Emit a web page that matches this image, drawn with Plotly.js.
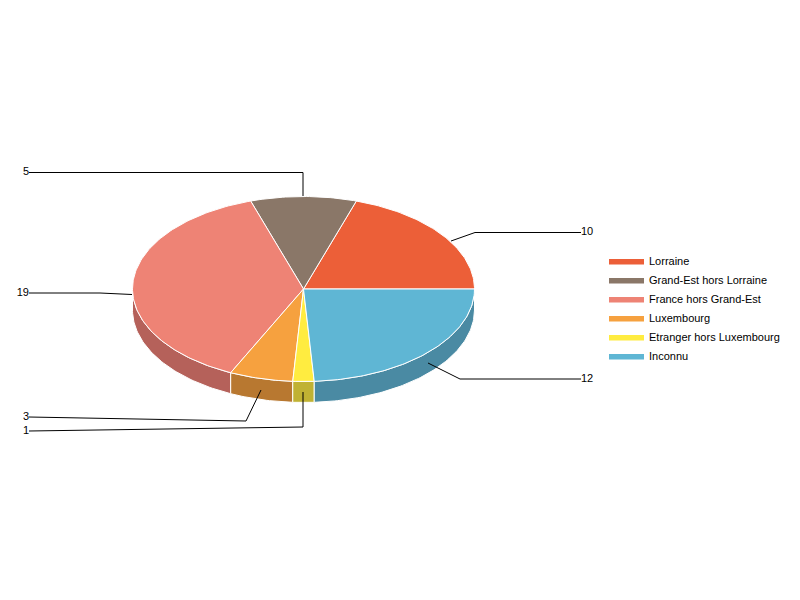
<!DOCTYPE html>
<html>
<head>
<meta charset="utf-8">
<script src="https://cdn.plot.ly/plotly-3.0.1.min.js"></script>
<style>html,body{margin:0;padding:0;background:#fff}#chart{width:800px;height:600px}</style>
</head>
<body>
<div id="chart"></div>
<script>
const categories = ["Lorraine","Grand-Est hors Lorraine","France hors Grand-Est","Luxembourg","Etranger hors Luxembourg","Inconnu"];
const values = [10,5,19,3,1,12];
const topColors = ["#EC5F38","#8A7768","#EE8375","#F6A13F","#FFEC40","#5FB6D4"];
const sideColors = ["#A64329","#61544A","#B5615A","#B87830","#C0B233","#4A8AA3"];

const leaderX = [[451,475,581],[303,303,29],[132,100,29],[261,246,29],[303,303,29],[428,460,581]];
const leaderY = [[241,232.5,232.5],[196,172.5,172.5],[294.5,293,293],[390,421,417],[392,427,431],[363,379,379]];

const cx = 303.5, cy = 289, rx = 171, ry = 92.5, depth = 21;
const total = values.reduce((a,b)=>a+b,0);

function arc(a0,a1,dy){
  const xs=[],ys=[];
  const n=Math.max(2,Math.ceil(Math.abs(a1-a0)));
  for(let i=0;i<=n;i++){
    const a=(a0+(a1-a0)*i/n)*Math.PI/180;
    xs.push(cx+rx*Math.cos(a));
    ys.push(cy+dy-ry*Math.sin(a));
  }
  return [xs,ys];
}

const wallTraces=[], topTraces=[], leaderTraces=[];
let start=0;
values.forEach((v,i)=>{
  const end=start+v/total*360;
  if(end>180){
    const a0=Math.max(start,180);
    const [tx,ty]=arc(a0,end,0);
    const [bx,by]=arc(end,a0,depth);
    wallTraces.push({type:"scatter",mode:"lines",x:tx.concat(bx,[tx[0]]),y:ty.concat(by,[ty[0]]),
      fill:"toself",fillcolor:sideColors[i],line:{color:"#fff",width:1},showlegend:false,hoverinfo:"skip"});
  }
  const [ax,ay]=arc(start,end,0);
  topTraces.push({type:"scatter",mode:"lines",name:categories[i],
    x:[cx].concat(ax,[cx]),y:[cy].concat(ay,[cy]),
    fill:"toself",fillcolor:topColors[i],line:{color:"#fff",width:1},hoverinfo:"skip"});
  leaderTraces.push({type:"scatter",mode:"lines+text",x:leaderX[i],y:leaderY[i],
    text:["","",String(v)],
    textposition:leaderX[i][2]>cx?"middle right":"middle left",
    textfont:{family:"Liberation Sans, Arial, sans-serif",size:11,color:"#000"},
    line:{color:"#000",width:1},showlegend:false,hoverinfo:"skip",cliponaxis:false});
  start=end;
});

Plotly.newPlot("chart",wallTraces.concat(topTraces,leaderTraces),{
  width:800,height:600,
  margin:{l:0,r:0,t:0,b:0},
  paper_bgcolor:"#fff",plot_bgcolor:"#fff",
  xaxis:{range:[0,800],visible:false,fixedrange:true},
  yaxis:{range:[600,0],visible:false,fixedrange:true},
  showlegend:true,
  legend:{x:0.755,y:0.59,xanchor:"left",yanchor:"top",itemwidth:35,traceorder:"normal",
    font:{family:"Liberation Sans, Arial, sans-serif",size:11,color:"#000"},bgcolor:"rgba(0,0,0,0)"},
  hovermode:false
},{staticPlot:true,displayModeBar:false});
</script>
</body>
</html>
